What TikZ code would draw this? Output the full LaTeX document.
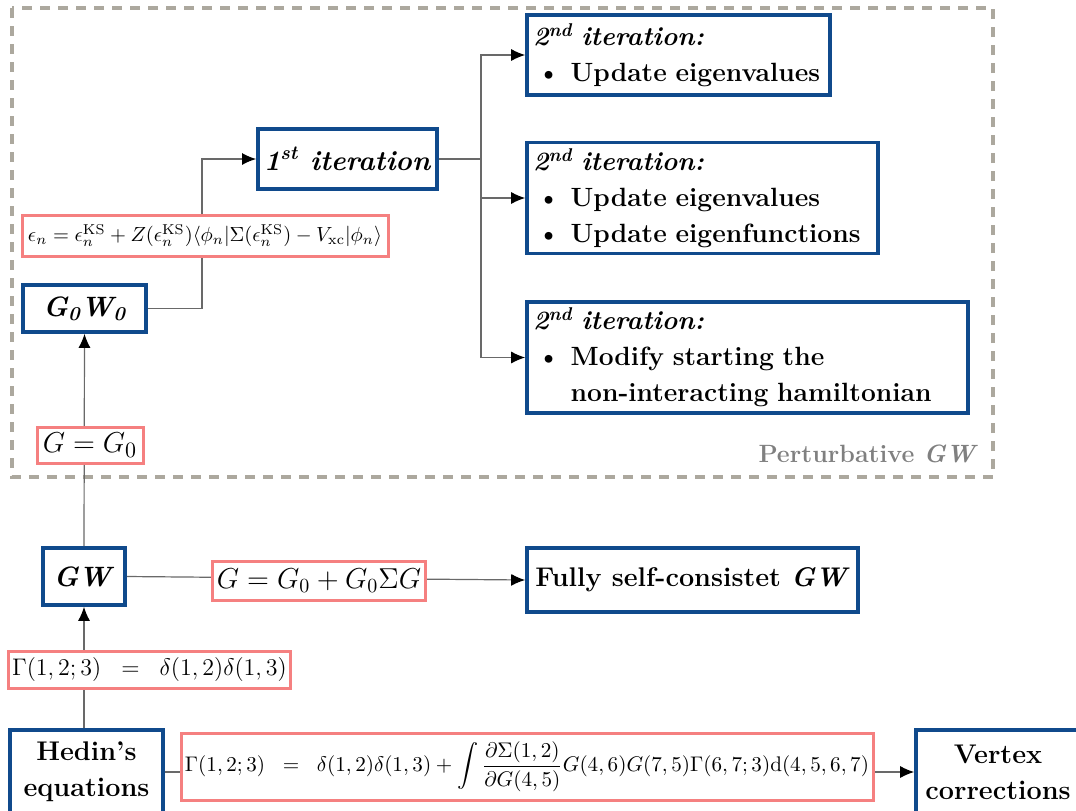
\documentclass[tikz,border=0pt]{standalone}
\usepackage{amsmath}
\usepackage{graphicx}
\usetikzlibrary{arrows.meta,calc}
\definecolor{navy}{RGB}{16,74,140}
\definecolor{rosy}{RGB}{245,128,128}
\definecolor{framegray}{RGB}{172,168,158}
\definecolor{labelgray}{RGB}{128,128,128}
\definecolor{wire}{RGB}{105,105,105}
\hyphenpenalty=10000
\newcommand{\itembul}{\hspace{2pt}\textbullet\hspace{.4em}}
\tikzset{
  bluebox/.style={draw=navy,line width=1.8pt,fill=white,inner sep=3pt},
  pinkbox/.style={draw=rosy,line width=1.5pt,fill=white,inner sep=2pt},
  boxtext/.style={font=\fontsize{13.2}{18}\selectfont\bfseries,align=left},
  link/.style={draw=wire,line width=0.6pt},
  arr/.style={link,-{Latex[color=black,length=7pt,width=6pt]}}
}

\begin{document}
\begin{tikzpicture}[x=0.5pt,y=-0.5pt]
  \useasboundingbox (0,0) rectangle (1076,810);
  % perturbative frame
  \draw[draw=framegray,line width=2pt,dash pattern=on 5pt off 4pt] (12,8) rectangle (993,477);
  \node[anchor=base east,text=labelgray,font=\fontsize{12.5}{15}\selectfont\bfseries] (plabel) at (985,462) {Perturbative \textit{GW}};

  % blue boxes
  \node[bluebox,minimum width=82.5pt,minimum height=30pt,font=\fontsize{14}{16}\selectfont\bfseries] (it1) at (347.5,159) {\textit{1\textsuperscript{st} iteration}};
  \node[bluebox,boxtext,minimum width=151.5pt,minimum height=40pt,text width=145.5pt] (it2a) at (678.5,55)
    {\textit{2\textsuperscript{nd} iteration:}\\\mbox{\itembul Update eigenvalues}};
  \node[bluebox,boxtext,minimum width=175.5pt,minimum height=53pt,text width=169.5pt] (it2b) at (702.5,198)
    {\textit{2\textsuperscript{nd} iteration:}\\\mbox{\itembul Update eigenvalues}\\\mbox{\itembul Update eigenfunctions}};
  \node[bluebox,boxtext,minimum width=220.5pt,minimum height=55.5pt,text width=214.5pt] (it2c) at (747.5,357.5)
    {\textit{2\textsuperscript{nd} iteration:}\\\mbox{\itembul Modify starting the}\\\mbox{\phantom{\itembul}non-interacting hamiltonian}};
  \node[bluebox,minimum width=61.5pt,minimum height=23.5pt,font=\fontsize{14}{16}\selectfont\bfseries] (g0w0) at (84.5,308.5) {\textit{G\textsubscript{0}W\textsubscript{0}}};
  \node[bluebox,minimum width=41pt,minimum height=28.5pt,font=\fontsize{14}{16}\selectfont\bfseries] (gw) at (84,576.5) {\textit{GW}};
  \node[bluebox,minimum width=165.5pt,minimum height=32pt,font=\fontsize{13.5}{16}\selectfont\bfseries] (fullsc) at (692.5,580) {Fully self-consistet \textit{GW}};
  \node[bluebox,minimum width=76.5pt,minimum height=42pt,align=center,font=\fontsize{13.5}{18}\selectfont\bfseries] (hedin) at (86.5,772) {Hedin's\\equations};
  \node[bluebox,minimum width=82pt,minimum height=42pt,align=center,font=\fontsize{13.5}{18}\selectfont\bfseries] (vertex) at (998,772) {Vertex\\corrections};

  % connectors
  \draw[arr] (hedin.north -| gw.south) -- (gw.south);
  \draw[arr] (gw.north) -- (g0w0.south);
  \draw[arr] (g0w0.east) -| ($(g0w0.east)!.5!(it1.west)$) |- (it1.west);
  \coordinate (split) at (481,159);
  \draw[link] (it1.east) -- (split);
  \foreach \n in {it2a,it2b,it2c}
    \draw[arr] (split) |- (\n.west);
  \draw[arr] (gw.east) -- (fullsc.west);
  \draw[arr] (hedin.east) -- (vertex.west);

  % equations on the connectors
  \node[pinkbox,minimum width=183pt,minimum height=20.5pt] (epsn) at (205,235.5)
    {\resizebox{177pt}{!}{$\epsilon_n=\epsilon_n^{\mathrm{KS}}+Z(\epsilon_n^{\mathrm{KS}})\langle\phi_n|\Sigma(\epsilon_n^{\mathrm{KS}})-V_{\mathrm{xc}}|\phi_n\rangle$}};
  \node[pinkbox,minimum width=53pt,minimum height=18pt,font=\fontsize{15}{17}\selectfont] (gzero) at (90,445) {$G=G_0$};
  \node[pinkbox,minimum width=105pt,minimum height=19.5pt,font=\fontsize{14}{16}\selectfont] (dyson) at (319,580.5) {$G=G_0+G_0\Sigma G$};
  \node[pinkbox,minimum width=139.5pt,minimum height=18.5pt,font=\fontsize{12.5}{15}\selectfont] (gamma) at (149.5,669.5) {$\Gamma(1,2;3)\;\;=\;\;\delta(1,2)\delta(1,3)$};
  \node[pinkbox,inner sep=1pt,minimum width=346pt,minimum height=33.5pt] (vertexeq) at (527,766.5)
    {\resizebox{342pt}{!}{$\displaystyle\Gamma(1,2;3)\;\;=\;\;\delta(1,2)\delta(1,3)+\int\frac{\partial\Sigma(1,2)}{\partial G(4,5)}G(4,6)G(7,5)\Gamma(6,7;3)\mathrm{d}(4,5,6,7)$}};
\end{tikzpicture}
\end{document}
